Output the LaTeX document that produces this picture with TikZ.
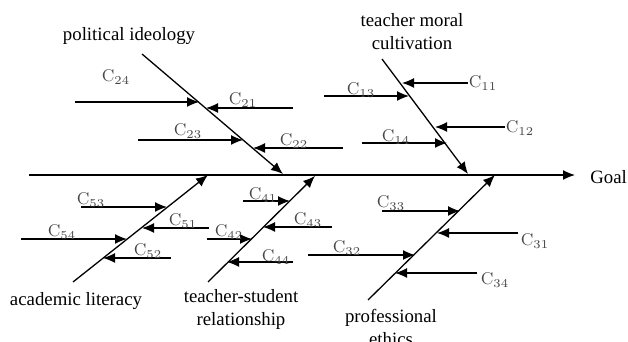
\documentclass[tikz,border=0pt]{standalone}
\usepackage{fontspec}
\newfontfamily\titlefont{Liberation Serif}
\usetikzlibrary{arrows.meta}
\tikzset{
    main-bone/.style = {draw=black, line width=0.65pt, -{Latex[length=6pt,width=5pt]}},
    cause-arrow/.style = {draw=black, line width=0.65pt, -{Latex[length=6pt,width=5pt]}},
    bone-title/.style = {font=\titlefont\fontsize{9.4}{11.5}\selectfont, align=center, inner sep=0pt},
    cause-label/.style = {text=black!72, font=\fontsize{8.5}{10}\selectfont, inner sep=0pt},
}

\begin{document}
\begin{tikzpicture}[x=0.5pt, y=-0.5pt]
\useasboundingbox (0,0) rectangle (628,342);

\coordinate (tail) at (29,175);
\coordinate (head) at (575,175);
\draw[main-bone] (tail) -- (head);
\node[bone-title, anchor=west] (goal) at (590,177) {Goal};

\coordinate (pi-a) at (142,54);
\coordinate (pi-b) at (283,174);
\coordinate (tm-a) at (382,59);
\coordinate (tm-b) at (468,174);
\coordinate (al-a) at (73,282);
\coordinate (al-b) at (208,175);
\coordinate (ts-a) at (208,282);
\coordinate (ts-b) at (315,176);
\coordinate (pe-a) at (368,300);
\coordinate (pe-b) at (495,175);
\draw[main-bone] (pi-a) -- (pi-b);
\draw[main-bone] (tm-a) -- (tm-b);
\draw[main-bone] (al-a) -- (al-b);
\draw[main-bone] (ts-a) -- (ts-b);
\draw[main-bone] (pe-a) -- (pe-b);

\node[bone-title] (political) at (129,36) {political ideology};
\node[bone-title] (moral) at (412,32) {teacher moral\\cultivation};
\node[bone-title] (academic) at (76,301) {academic literacy};
\node[bone-title] (relation) at (241,309) {teacher-student\\relationship};
\node[bone-title] (ethics) at (391,327) {professional\\ethics};

\coordinate (c24-a) at (75,102);
\coordinate (c24-b) at (199,102);
\coordinate (c21-a) at (293,108);
\coordinate (c21-b) at (206,108);
\coordinate (c23-a) at (138,140);
\coordinate (c23-b) at (243,140);
\coordinate (c22-a) at (343,148);
\coordinate (c22-b) at (253,148);
\draw[cause-arrow] (c24-a) -- (c24-b);
\draw[cause-arrow] (c21-a) -- (c21-b);
\draw[cause-arrow] (c23-a) -- (c23-b);
\draw[cause-arrow] (c22-a) -- (c22-b);
\node[cause-label] (c24) at (116,77) {$\mathrm{C}_{24}$};
\node[cause-label] (c21) at (243,100) {$\mathrm{C}_{21}$};
\node[cause-label] (c23) at (188,131) {$\mathrm{C}_{23}$};
\node[cause-label] (c22) at (294,141) {$\mathrm{C}_{22}$};

\coordinate (c11-a) at (468,83);
\coordinate (c11-b) at (402,83);
\coordinate (c13-a) at (324,96);
\coordinate (c13-b) at (409,96);
\coordinate (c12-a) at (505,127);
\coordinate (c12-b) at (435,127);
\coordinate (c14-a) at (362,143);
\coordinate (c14-b) at (447,143);
\draw[cause-arrow] (c11-a) -- (c11-b);
\draw[cause-arrow] (c13-a) -- (c13-b);
\draw[cause-arrow] (c12-a) -- (c12-b);
\draw[cause-arrow] (c14-a) -- (c14-b);
\node[cause-label] (c11) at (483,83) {$\mathrm{C}_{11}$};
\node[cause-label] (c13) at (361,90) {$\mathrm{C}_{13}$};
\node[cause-label] (c12) at (520,128) {$\mathrm{C}_{12}$};
\node[cause-label] (c14) at (396,137) {$\mathrm{C}_{14}$};

\coordinate (c53-a) at (81,207);
\coordinate (c53-b) at (167,207);
\coordinate (c51-a) at (209,228);
\coordinate (c51-b) at (142,228);
\coordinate (c54-a) at (21,239);
\coordinate (c54-b) at (127,239);
\coordinate (c52-a) at (171,258);
\coordinate (c52-b) at (103,258);
\draw[cause-arrow] (c53-a) -- (c53-b);
\draw[cause-arrow] (c51-a) -- (c51-b);
\draw[cause-arrow] (c54-a) -- (c54-b);
\draw[cause-arrow] (c52-a) -- (c52-b);
\node[cause-label] (c53) at (91,200) {$\mathrm{C}_{53}$};
\node[cause-label] (c51) at (183,221) {$\mathrm{C}_{51}$};
\node[cause-label] (c54) at (62,232) {$\mathrm{C}_{54}$};
\node[cause-label] (c52) at (148,251) {$\mathrm{C}_{52}$};

\coordinate (c41-a) at (243,201);
\coordinate (c41-b) at (290,201);
\coordinate (c43-a) at (332,227);
\coordinate (c43-b) at (263,227);
\coordinate (c42-a) at (207,239);
\coordinate (c42-b) at (252,239);
\coordinate (c44-a) at (293,262);
\coordinate (c44-b) at (227,262);
\draw[cause-arrow] (c41-a) -- (c41-b);
\draw[cause-arrow] (c43-a) -- (c43-b);
\draw[cause-arrow] (c42-a) -- (c42-b);
\draw[cause-arrow] (c44-a) -- (c44-b);
\node[cause-label] (c41) at (263,195) {$\mathrm{C}_{41}$};
\node[cause-label] (c43) at (308,220) {$\mathrm{C}_{43}$};
\node[cause-label] (c42) at (229,232) {$\mathrm{C}_{42}$};
\node[cause-label] (c44) at (276,257) {$\mathrm{C}_{44}$};

\coordinate (c33-a) at (382,211);
\coordinate (c33-b) at (460,211);
\coordinate (c31-a) at (518,233);
\coordinate (c31-b) at (437,233);
\coordinate (c32-a) at (308,255);
\coordinate (c32-b) at (415,255);
\coordinate (c34-a) at (477,273);
\coordinate (c34-b) at (395,273);
\draw[cause-arrow] (c33-a) -- (c33-b);
\draw[cause-arrow] (c31-a) -- (c31-b);
\draw[cause-arrow] (c32-a) -- (c32-b);
\draw[cause-arrow] (c34-a) -- (c34-b);
\node[cause-label] (c33) at (391,203) {$\mathrm{C}_{33}$};
\node[cause-label] (c31) at (535,241) {$\mathrm{C}_{31}$};
\node[cause-label] (c32) at (347,248) {$\mathrm{C}_{32}$};
\node[cause-label] (c34) at (495,280) {$\mathrm{C}_{34}$};
\end{tikzpicture}
\end{document}
